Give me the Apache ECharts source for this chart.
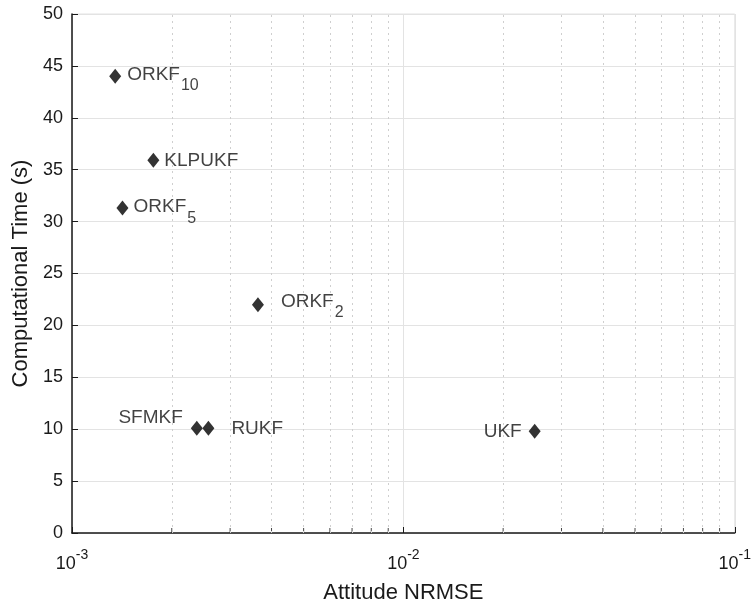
<!DOCTYPE html>
<html>
<head>
<meta charset="utf-8">
<script src="https://cdn.jsdelivr.net/npm/echarts@6/dist/echarts.min.js"></script>
<style>html,body{margin:0;padding:0;background:#fff}#c{width:754px;height:610px}</style>
</head>
<body>
<div id="c"></div>
<script>
// Data
const names = ['ORKF10', 'KLPUKF', 'ORKF5', 'ORKF2', 'SFMKF', 'RUKF', 'UKF'];
const nrmse = [0.00135, 0.00176, 0.00142, 0.00364, 0.00238, 0.00258, 0.0249];
const times = [44.0, 35.9, 31.3, 22.0, 10.1, 10.1, 9.8];
const yTicks = [0, 5, 10, 15, 20, 25, 30, 35, 40, 45, 50];
const xMinor = [0.002,0.003,0.004,0.005,0.006,0.007,0.008,0.009,0.02,0.03,0.04,0.05,0.06,0.07,0.08,0.09];

const FONT = '"Liberation Sans", Arial, sans-serif';
const TXT = '#1a1a1a';
const LBL = '#111111';

const labelText = {
  ORKF10: '{m|ORKF}{s|10}', ORKF5: '{m|ORKF}{s|5}', ORKF2: '{m|ORKF}{s|2}',
  KLPUKF: '{k|KLPUKF}', SFMKF: '{k|SFMKF}', RUKF: '{k|RUKF}', UKF: '{k|UKF}'
};
const labelPos = {
  ORKF10: {position: 'right', distance: 6, offset: [0, -2]},
  KLPUKF: {position: 'right', distance: 5, offset: [0, 0]},
  ORKF5: {position: 'right', distance: 5, offset: [0, -1]},
  ORKF2: {position: 'right', distance: 17, offset: [0, -3]},
  SFMKF: {position: 'left', distance: 8, offset: [0, -10]},
  RUKF: {position: 'right', distance: 17, offset: [0, 1]},
  UKF: {position: 'left', distance: 7, offset: [0, 0]}
};
const rich = {
  m: {fontSize: 19, fontFamily: FONT, color: LBL, lineHeight: 22},
  k: {fontSize: 19, fontFamily: FONT, color: LBL, lineHeight: 22},
  s: {fontSize: 16, fontFamily: FONT, color: LBL, padding: [22, 0, 0, 1], lineHeight: 22}
};

const pts = names.map((n, i) => ({
  value: [nrmse[i], times[i]],
  name: n,
  label: Object.assign({show: true, formatter: labelText[n], rich: rich}, labelPos[n])
}));

const chart = echarts.init(document.getElementById('c'), null, {renderer: 'canvas'});
chart.setOption({
  animation: false,
  backgroundColor: '#fff',
  grid: {left: 72, right: 19, top: 14, bottom: 77, show: true, borderColor: '#e3e3e3', borderWidth: 1},
  xAxis: {
    type: 'log', logBase: 10, min: 0.001, max: 0.1,
    name: 'Attitude NRMSE', nameLocation: 'middle', nameGap: 49,
    nameTextStyle: {fontSize: 22, fontFamily: FONT, color: TXT},
    axisLine: {onZero: false, lineStyle: {color: TXT, width: 1.5}},
    axisTick: {inside: true, length: 6, lineStyle: {color: TXT}},
    splitLine: {show: true, lineStyle: {color: '#e3e3e3', width: 1}},
    axisLabel: {
      margin: 12,
      formatter: v => '{b|10}{e|' + Math.round(Math.log10(v)) + '}',
      rich: {
        b: {fontSize: 18, fontFamily: FONT, color: TXT, padding: [10, 0, 0, 0]},
        e: {fontSize: 14, fontFamily: FONT, color: TXT, padding: [0, 0, 8, 0]}
      }
    }
  },
  yAxis: {
    type: 'value', min: 0, max: 50, interval: 5,
    name: 'Computational Time (s)', nameLocation: 'middle', nameGap: 39,
    nameTextStyle: {fontSize: 22, fontFamily: FONT, color: TXT},
    axisLine: {show: true, lineStyle: {color: TXT, width: 1.5}},
    axisTick: {show: true, inside: true, length: 6, lineStyle: {color: TXT}},
    splitLine: {show: true, lineStyle: {color: '#e3e3e3', width: 1}},
    axisLabel: {fontSize: 18, fontFamily: FONT, color: TXT, margin: 9,
      formatter: v => yTicks.indexOf(v) >= 0 ? String(v) : ''}
  },
  series: [
    {
      type: 'scatter', silent: true,
      data: xMinor.map(v => [v, 0]),
      symbol: 'rect', symbolSize: [1, 5], symbolOffset: [0, -2.5],
      itemStyle: {color: TXT}, clip: false, z: 3,
      markLine: {
        silent: true, symbol: 'none', label: {show: false},
        lineStyle: {color: '#cfcfcf', type: [2, 4], width: 1},
        data: xMinor.map(v => [{coord: [v, 0]}, {coord: [v, 50]}])
      }
    },
    {
      type: 'scatter', data: pts,
      symbol: 'diamond', symbolSize: [12, 15],
      itemStyle: {color: '#000'}, z: 5
    }
  ]
});
</script>
</body>
</html>
